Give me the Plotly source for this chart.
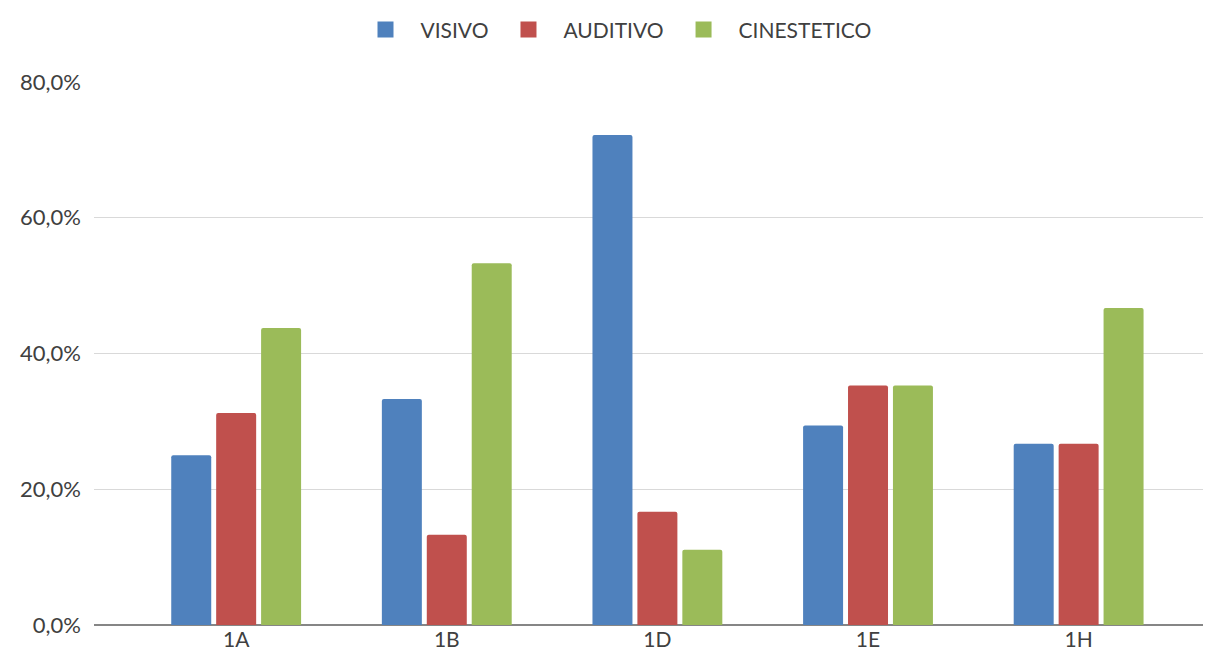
import plotly.graph_objects as go

# Office-style palette
COLOR_VISIVO = "#4F81BD"
COLOR_AUDITIVO = "#C0504D"
COLOR_CINESTETICO = "#9BBB59"
TEXT_COLOR = "#404040"
FONT = "Lato, 'Open Sans', sans-serif"

classi = ["1A", "1B", "1D", "1E", "1H"]
visivo = [0.250, 0.333, 0.722, 0.294, 0.267]
auditivo = [0.3125, 0.133, 0.167, 0.353, 0.267]
cinestetico = [0.4375, 0.533, 0.111, 0.353, 0.467]

series = [
    ("VISIVO", visivo, COLOR_VISIVO),
    ("AUDITIVO", auditivo, COLOR_AUDITIVO),
    ("CINESTETICO", cinestetico, COLOR_CINESTETICO),
]

fig = go.Figure()
for name, vals, color in series:
    fig.add_trace(go.Bar(
        x=list(range(len(classi))), y=vals, name=name, showlegend=False,
        marker=dict(color=color, cornerradius=2, line=dict(width=0)),
    ))
# bigger square legend keys than the bar default
for name, _, color in series:
    fig.add_trace(go.Scatter(
        x=[None], y=[None], mode="markers", name=name,
        marker=dict(symbol="square", size=22, color=color),
    ))

fig.update_layout(
    width=1211, height=662,
    margin=dict(l=84, r=14, t=74, b=45),
    paper_bgcolor="white", plot_bgcolor="white",
    separators=",.",
    barmode="group", bargap=0.36, bargroupgap=0.11,
    font=dict(family=FONT, size=21, color=TEXT_COLOR),
    legend=dict(
        orientation="h", xref="container", x=0.5, xanchor="center",
        yref="container", y=0.967, yanchor="middle",
        font=dict(size=21, color=TEXT_COLOR),
        itemsizing="trace", itemwidth=60, traceorder="normal",
    ),
    xaxis=dict(
        tickmode="array", tickvals=list(range(len(classi))), ticktext=classi,
        range=[-0.675, 4.6], showgrid=False, showline=False, zeroline=False,
        ticks="", tickfont=dict(size=21, color=TEXT_COLOR),
    ),
    yaxis=dict(
        range=[0, 0.8], dtick=0.2, tickformat=".1%",
        showgrid=True, gridcolor="#D9D9D9", gridwidth=1,
        zeroline=True, zerolinecolor="#868686", zerolinewidth=2,
        showline=False, ticks="", ticklabelstandoff=12,
        tickfont=dict(size=22, color=TEXT_COLOR),
    ),
)

fig.write_html("out.html")
